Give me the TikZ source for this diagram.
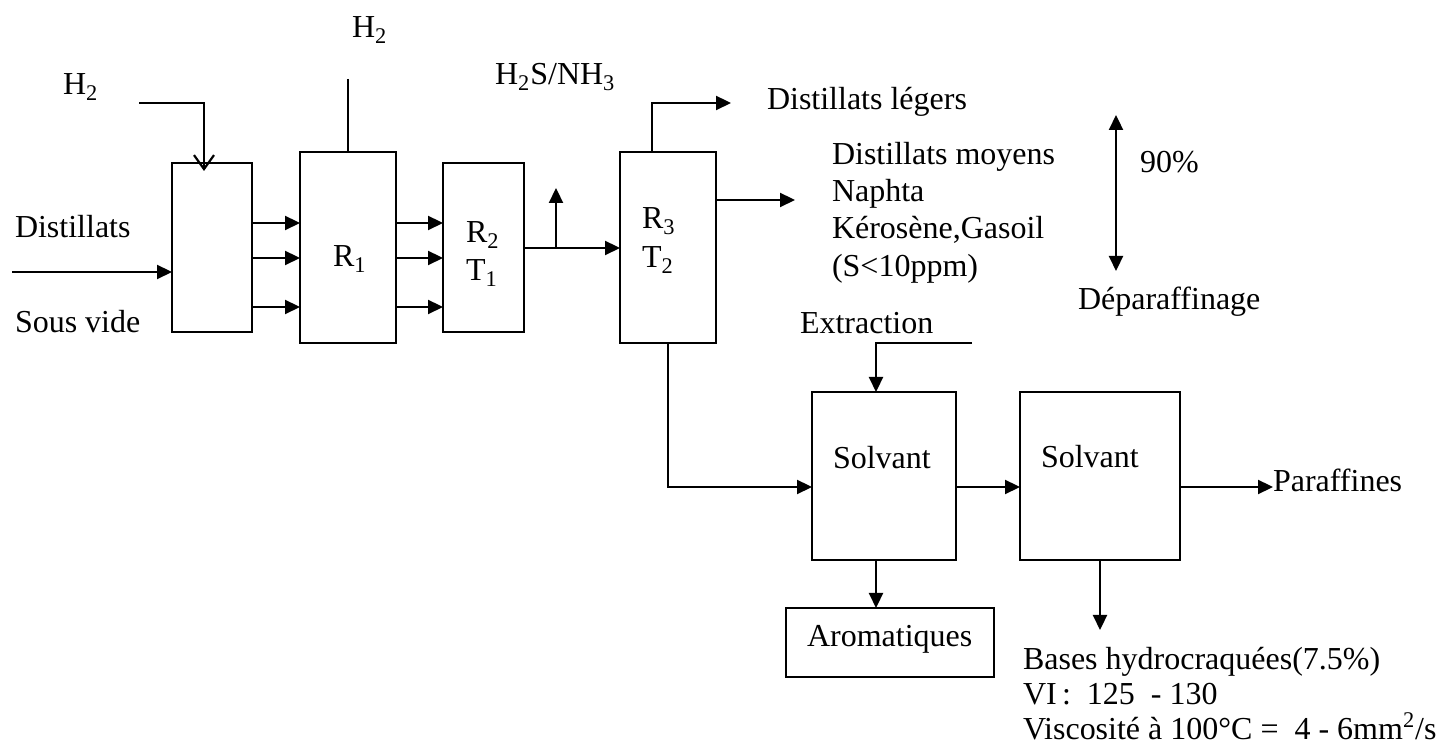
\documentclass[tikz,border=0pt]{standalone}
\usepackage{fontspec}
\setmainfont{Liberation Serif}
\usetikzlibrary{arrows.meta}
\begin{document}
\begin{tikzpicture}[x=0.5pt,y=-0.5pt,
  line width=1.1pt,
  every node/.style={font=\fontsize{16}{19}\selectfont},
  box/.style={draw,inner sep=0pt,outer sep=0pt},
  lbl/.style={anchor=base west,inner sep=0pt,outer sep=0pt},
  arr/.style={-{Triangle[length=7.5pt,width=7pt]}},
  darr/.style={{Triangle[length=7.5pt,width=7pt]}-{Triangle[length=7.5pt,width=7pt]}},
  openarr/.style={-{Straight Barb[length=7pt,width=10pt,line width=1.1pt]}}]
\useasboundingbox (0,0) rectangle (1440,747);

% boxes
\node[box,minimum width=40pt,minimum height=84.5pt] (A) at (212,247.5) {};
\node[box,minimum width=48pt,minimum height=95.5pt] (R1) at (348,247.5) {};
\node[box,minimum width=40.5pt,minimum height=84.5pt] (R2) at (483.5,247.5) {};
\node[box,minimum width=48pt,minimum height=95.5pt] (R3) at (668,247.5) {};
\node[box,minimum width=72pt,minimum height=84pt] (S1) at (884,476) {};
\node[box,minimum width=80pt,minimum height=84pt] (S2) at (1100,476) {};
\node[box,minimum width=104pt,minimum height=34.5pt] (Ar) at (890,642.5) {};

% labels
\node[lbl] (h2a) at (63,95) {H\textsubscript{2}};
\node[lbl] (h2b) at (352,38) {H\textsubscript{2}};
\node[lbl] (dist) at (15,238) {Distillats};
\node[lbl] (sv) at (15,333) {Sous vide};
\node[lbl] (r1l) at (333,267) {R\textsubscript{1}};
\node[lbl] (r2l) at (466,243) {R\textsubscript{2}};
\node[lbl] (t1l) at (466,281) {T\textsubscript{1}};
\node[lbl] (r3l) at (642,229) {R\textsubscript{3}};
\node[lbl] (t2l) at (642,268) {T\textsubscript{2}};
\node[lbl] (h2s) at (495,85) {H\textsubscript{2}S/NH\textsubscript{3}};
\node[lbl] (dl) at (767,110) {Distillats légers};
\node[lbl] (dm1) at (832,165) {Distillats moyens};
\node[lbl] (dm2) at (832,202) {Naphta};
\node[lbl] (dm3) at (832,239) {Kérosène,Gasoil};
\node[lbl] (dm4) at (832,277) {(S<10ppm)};
\node[lbl] (pc) at (1140,173) {90\%};
\node[lbl] (dep) at (1078,310) {Déparaffinage};
\node[lbl] (ext) at (800,334) {Extraction};
\node[lbl] (s1l) at (833,469) {Solvant};
\node[lbl] (s2l) at (1041,468) {Solvant};
\node[lbl] (arl) at (807,647) {Aromatiques};
\node[lbl] (par) at (1273,492) {Paraffines};
\node[lbl] (b1) at (1023,670) {Bases hydrocraquées(7.5\%)};
\node[lbl] (b2) at (1023,705) {VI\,:\ \ 125\ \ -\ 130};
\node[lbl] (b3) at (1023,740) {Viscosité à 100°C =\ \ 4 - 6mm\textsuperscript{2}/s};

% coordinates
\coordinate (y1) at (0,223);
\coordinate (y2) at (0,258);
\coordinate (y3) at (0,307);
\coordinate (y4) at (0,248);
\coordinate (ys) at (0,487);
\coordinate (feed) at (12,272);
\coordinate (h2in) at (139,103);
\coordinate (h2tip) at (204,171);
\coordinate (h2top) at (348,79);
\coordinate (br) at (556,248);
\coordinate (brt) at (556,188);
\coordinate (lt) at (731,103);
\coordinate (mt) at (795,200);
\coordinate (exin) at (972,343);
\coordinate (partip) at (1273,487);
\coordinate (bd) at (1100,630);
\coordinate (da1) at (1116,115);
\coordinate (da2) at (1116,271);

% connectors
\draw[arr] (feed) -- (A.west |- feed);
\draw[openarr] (h2in) -| (h2tip);
\draw (h2top) -- (R1.north);
\foreach \yy in {y1,y2,y3}{
  \draw[arr] (A.east |- \yy) -- (R1.west |- \yy);
  \draw[arr] (R1.east |- \yy) -- (R2.west |- \yy);
}
\draw[arr] (R2.east |- y4) -- (R3.west |- y4);
\draw[arr] (br) -- (brt);
\draw[arr] ([xshift=-8pt]R3.north) |- (lt);
\draw[arr] (R3.east |- mt) -- (mt);
\draw[arr] (R3.south) |- (S1.west |- ys);
\draw[arr] (exin) -| ([xshift=-4pt]S1.north);
\draw[arr] (S1.east |- ys) -- (S2.west |- ys);
\draw[arr] (S2.east |- ys) -- (partip);
\draw[arr] ([xshift=-4pt]S1.south) -- ([xshift=-4pt]S1.south |- Ar.north);
\draw[arr] (S2.south) -- (bd);
\draw[darr] (da1) -- (da2);
\end{tikzpicture}
\end{document}
